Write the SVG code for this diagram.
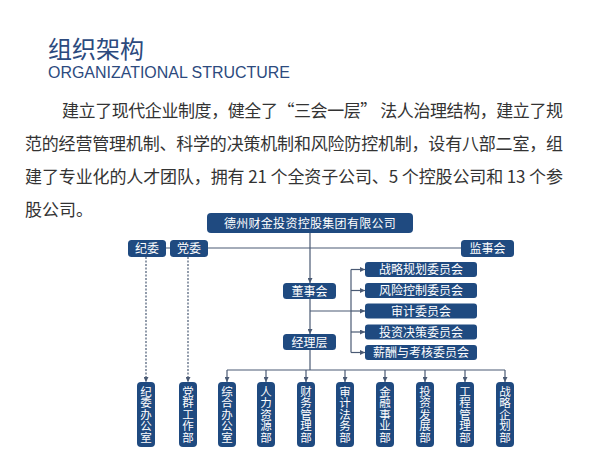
<svg xmlns="http://www.w3.org/2000/svg" width="591" height="457" viewBox="0 0 591 457">
<defs>
<marker id="ah" viewBox="0 0 6 6" refX="6" refY="3" markerWidth="5" markerHeight="5" orient="auto" markerUnits="userSpaceOnUse">
<path d="M0,0 L6,3 L0,6 z" fill="#4a5a74"/>
</marker>
<style>
.bx{fill:#1f4a80;}
.bt{fill:#ffffff;font-family:"Noto Sans CJK SC","Noto Sans",sans-serif;font-size:12px;text-anchor:middle;}
.vt{fill:#ffffff;font-family:"Noto Sans CJK SC","Noto Sans",sans-serif;font-size:11.5px;text-anchor:middle;writing-mode:vertical-rl;letter-spacing:0;}
.ln{stroke:#4a5a74;stroke-width:1.2;fill:none;}
.dl{stroke:#4a5a74;stroke-width:1.2;fill:none;stroke-dasharray:2,1.5;}
.ar{marker-end:url(#ah);}
.p{fill:#333333;font-family:"Noto Sans CJK SC","Noto Sans",sans-serif;font-size:17px;}
</style>
</defs>
<rect width="591" height="457" fill="#ffffff"/>
<g id="title">
<text x="48" y="58" font-family="'Noto Sans CJK SC','Noto Sans',sans-serif" font-size="24" fill="#2c4a7e">组织架构</text>
<text x="48" y="78" font-family="'Liberation Sans',Arial,sans-serif" font-size="16" fill="#2c4a7e" textLength="242" lengthAdjust="spacingAndGlyphs">ORGANIZATIONAL STRUCTURE</text>
</g>
<g id="paragraph">
<text class="p" x="62" y="117" textLength="501" lengthAdjust="spacing">建立了现代企业制度，健全了“三会一层” 法人治理结构，建立了规</text>
<text class="p" x="25" y="150" textLength="538" lengthAdjust="spacing">范的经营管理机制、科学的决策机制和风险防控机制，设有八部二室，组</text>
<text class="p" x="25" y="183" textLength="538" lengthAdjust="spacing">建了专业化的人才团队，拥有 21 个全资子公司、5 个控股公司和 13 个参</text>
<text class="p" x="25" y="216">股公司。</text>
</g>
<g id="connectors">
<line class="ln" x1="166" y1="248" x2="461" y2="248"/>
<line class="ln ar" x1="310" y1="233" x2="310" y2="283"/>
<line class="ln ar" x1="310" y1="299" x2="310" y2="334"/>
<line class="ln" x1="310" y1="350" x2="310" y2="370"/>
<line class="ln" x1="310" y1="311" x2="351" y2="311"/>
<line class="ln" x1="351" y1="269.5" x2="351" y2="352.5"/>
<line class="ln ar" x1="351" y1="269.5" x2="365" y2="269.5"/>
<line class="ln ar" x1="351" y1="290.5" x2="365" y2="290.5"/>
<line class="ln ar" x1="351" y1="311" x2="365" y2="311"/>
<line class="ln ar" x1="351" y1="332" x2="365" y2="332"/>
<line class="ln ar" x1="351" y1="352.5" x2="365" y2="352.5"/>
<line class="dl ar" x1="146" y1="257" x2="146" y2="382"/>
<line class="dl ar" x1="188" y1="257" x2="188" y2="382"/>
<line class="ln" x1="227" y1="370" x2="505" y2="370"/>
<line class="ln ar" x1="227" y1="370" x2="227" y2="382"/>
<line class="ln ar" x1="266" y1="370" x2="266" y2="382"/>
<line class="ln ar" x1="306" y1="370" x2="306" y2="382"/>
<line class="ln ar" x1="345" y1="370" x2="345" y2="382"/>
<line class="ln ar" x1="385" y1="370" x2="385" y2="382"/>
<line class="ln ar" x1="425" y1="370" x2="425" y2="382"/>
<line class="ln ar" x1="465" y1="370" x2="465" y2="382"/>
<line class="ln ar" x1="505" y1="370" x2="505" y2="382"/>
</g>
<g id="group-company"><rect class="bx" x="207" y="213" width="206" height="20" rx="4"/><text class="bt" x="310" y="227.5" font-size="12.5" letter-spacing="0.3">德州财金投资控股集团有限公司</text></g>
<g id="jiwei"><rect class="bx" x="128" y="240" width="38" height="17" rx="3.5"/><text class="bt" x="147" y="253">纪委</text></g>
<g id="dangwei"><rect class="bx" x="170" y="240" width="38" height="17" rx="3.5"/><text class="bt" x="189" y="253">党委</text></g>
<g id="jianshihui"><rect class="bx" x="461" y="240" width="53" height="17" rx="3.5"/><text class="bt" x="487.5" y="253">监事会</text></g>
<g id="dongshihui"><rect class="bx" x="283" y="283" width="53" height="16" rx="3.5"/><text class="bt" x="309.5" y="295.5">董事会</text></g>
<g id="jinglice"><rect class="bx" x="283" y="334" width="53" height="16" rx="3.5"/><text class="bt" x="309.5" y="346.5">经理层</text></g>
<g id="c1"><rect class="bx" x="365" y="262" width="112" height="15" rx="3"/><text class="bt" x="421" y="274">战略规划委员会</text></g>
<g id="c2"><rect class="bx" x="365" y="283" width="112" height="15" rx="3"/><text class="bt" x="421" y="295">风险控制委员会</text></g>
<g id="c3"><rect class="bx" x="365" y="303.5" width="112" height="15" rx="3"/><text class="bt" x="421" y="315.5">审计委员会</text></g>
<g id="c4"><rect class="bx" x="365" y="324.5" width="112" height="15" rx="3"/><text class="bt" x="421" y="336.5">投资决策委员会</text></g>
<g id="c5"><rect class="bx" x="365" y="345" width="112" height="15" rx="3"/><text class="bt" x="421" y="357">薪酬与考核委员会</text></g>
<g id="d1"><rect class="bx" x="137" y="382" width="18" height="65" rx="4"/><text class="vt" x="146" y="414.5">纪委办公室</text></g>
<g id="d2"><rect class="bx" x="179" y="382" width="18" height="65" rx="4"/><text class="vt" x="188" y="414.5">党群工作部</text></g>
<g id="d3"><rect class="bx" x="218" y="382" width="18" height="65" rx="4"/><text class="vt" x="227" y="414.5">综合办公室</text></g>
<g id="d4"><rect class="bx" x="257" y="382" width="18" height="65" rx="4"/><text class="vt" x="266" y="414.5">人力资源部</text></g>
<g id="d5"><rect class="bx" x="297" y="382" width="18" height="65" rx="4"/><text class="vt" x="306" y="414.5">财务管理部</text></g>
<g id="d6"><rect class="bx" x="336" y="382" width="18" height="65" rx="4"/><text class="vt" x="345" y="414.5">审计法务部</text></g>
<g id="d7"><rect class="bx" x="376" y="382" width="18" height="65" rx="4"/><text class="vt" x="385" y="414.5">金融事业部</text></g>
<g id="d8"><rect class="bx" x="416" y="382" width="18" height="65" rx="4"/><text class="vt" x="425" y="414.5">投资发展部</text></g>
<g id="d9"><rect class="bx" x="456" y="382" width="18" height="65" rx="4"/><text class="vt" x="465" y="414.5">工程管理部</text></g>
<g id="d10"><rect class="bx" x="496" y="382" width="18" height="65" rx="4"/><text class="vt" x="505" y="414.5">战略企划部</text></g>
</svg>
